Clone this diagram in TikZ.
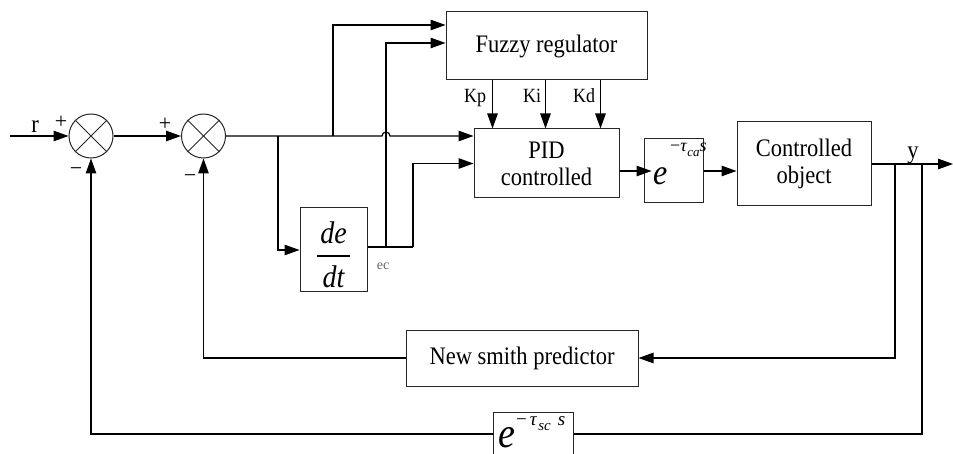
\documentclass[tikz,border=0pt]{standalone}
\usepackage{fontspec}
\setmainfont{Liberation Serif}
\usetikzlibrary{arrows.meta}
\newcommand{\tallx}[1]{\scalebox{1}[1.12]{#1}}
\begin{document}
\begin{tikzpicture}[x=1pt,y=-1pt,
  conn/.style={line width=1.2pt},
  arr/.style={conn,-{Triangle[length=15pt,width=10.5pt]}},
  blk/.style={draw=black!85,line width=1pt,rectangle,inner sep=0pt},
  sumj/.style={draw=black!85,line width=1pt,circle,minimum size=44pt,inner sep=0pt},
  lbl/.style={font=\fontsize{22.5}{27}\selectfont,align=center,inner sep=0pt},
  small/.style={font=\fontsize{18}{18}\selectfont,inner sep=0pt,anchor=base},
  sgn/.style={font=\fontsize{22}{22}\selectfont,inner sep=0pt}]
\useasboundingbox (0,0) rectangle (953,454);

% junctions
\node[sumj] (s1) at (91,136) {};
\node[sumj] (s2) at (203.5,136) {};
\draw[line width=1pt,black!85] (s1.north west) -- (s1.south east) (s1.north east) -- (s1.south west);
\draw[line width=1pt,black!85] (s2.north west) -- (s2.south east) (s2.north east) -- (s2.south west);

% blocks
\node[blk,lbl,minimum width=201pt,minimum height=68pt] (fz) at (546.5,46) {\tallx{Fuzzy regulator}};
\node[blk,lbl,minimum width=145pt,minimum height=69pt] (pid) at (546.5,163.5) {\tallx{PID}\\\tallx{controlled}};
\node[blk,minimum width=59pt,minimum height=64pt] (d1) at (673.5,171) {};
\node[blk,lbl,minimum width=134pt,minimum height=84pt] (plant) at (804,164) {\tallx{Controlled}\\\tallx{object}};
\node[blk,minimum width=67pt,minimum height=84pt] (dd) at (333.5,250) {};
\node[blk,lbl,minimum width=232pt,minimum height=56pt] (sm) at (522,358) {\tallx{New smith predictor}};
\node[blk,minimum width=80pt,minimum height=44pt] (d2) at (533,434) {};

% block contents
\node[font=\fontsize{28}{28}\selectfont\itshape,anchor=base,inner sep=0pt] (num) at (333.5,244) {\tallx{de}};
\node[font=\fontsize{28}{28}\selectfont\itshape,anchor=base,inner sep=0pt] (den) at (333.5,288) {\tallx{dt}};
\draw[line width=1.2pt] (317,256) -- (350,256);

\node[font=\fontsize{32}{32}\selectfont\itshape,anchor=base west,inner sep=0pt] (e1) at (653,185) {\tallx{e}};
\node[font=\fontsize{18}{18}\selectfont,anchor=base west,inner sep=0pt] (x1) at (670,152) {−\textit{τ}\raisebox{-5pt}{\fontsize{13}{13}\selectfont\itshape ca}\textit{s}};
\node[font=\fontsize{38}{38}\selectfont\itshape,anchor=base west,inner sep=0pt] (e2) at (498,447) {\tallx{e}};
\node[font=\fontsize{19}{19}\selectfont,anchor=base west,inner sep=0pt] (x2) at (516,425) {−\hspace{3pt}\textit{τ}\hspace{1pt}\raisebox{-5pt}{\fontsize{15}{15}\selectfont\itshape sc}\hspace{7pt}\textit{s}};

% coordinates
\coordinate (in) at (10,136);
\coordinate (b1) at (278,136);
\coordinate (b2) at (333,136);
\coordinate (hop) at (386,136);
\coordinate (j) at (386,247);
\coordinate (k) at (413,247);
\coordinate (yo) at (895,164);
\coordinate (yb) at (922,164);
\coordinate (out) at (953,164);

% connectors
\draw[arr] (in) -- (s1.west);
\draw[arr] (s1.east) -- (s2.west);
\draw[arr] (s2.east) -- ([xshift=-4pt]hop) arc[start angle=180,end angle=0,radius=4pt] -- (s2 -| pid.west);
\draw[arr] (b1) |- (dd.west);
\draw[arr] (b2) |- ([yshift=21pt]fz.west);
\draw[conn] ([yshift=3pt]dd.east) -- (k);
\draw[arr] (j) |- ([yshift=3pt]fz.west);
\draw[arr] (k) |- (pid.west);
\draw[arr] ([xshift=47pt]fz.south west) -- ([xshift=19pt]pid.north west);
\draw[arr] ([xshift=100pt]fz.south west) -- ([xshift=72pt]pid.north west);
\draw[arr] ([xshift=155pt]fz.south west) -- ([xshift=127pt]pid.north west);
\draw[arr] (pid.east |- d1) -- ([xshift=8pt]d1.west);
\draw[arr] (d1.east) -- (d1.east -| plant.west);
\draw[arr] (plant.east) -- (out);
\draw[arr] (yo) |- (sm.east);
\draw[conn] (yb) |- (d2.east);
\draw[arr] (sm.west) -| (s2.south);
\draw[arr] (d2.west) -| (s1.south);

% labels
\node[lbl,anchor=base] (rl) at (35,133) {\tallx{r}};
\node[lbl,anchor=base] (yl) at (913,159) {\tallx{y}};
\node[sgn] (p1) at (61,122) {+};
\node[sgn] (m1) at (76,172) {−};
\node[sgn] (p2) at (165,124) {+};
\node[sgn] (m2) at (190,179) {−};
\node[small] (kp) at (475,103) {\tallx{Kp}};
\node[small] (ki) at (532,103) {\tallx{Ki}};
\node[small] (kd) at (584,103) {\tallx{Kd}};
\node[font=\fontsize{14}{14}\selectfont,text=black!60,anchor=base,inner sep=0pt] (ec) at (383,270) {ec};
\end{tikzpicture}
\end{document}
